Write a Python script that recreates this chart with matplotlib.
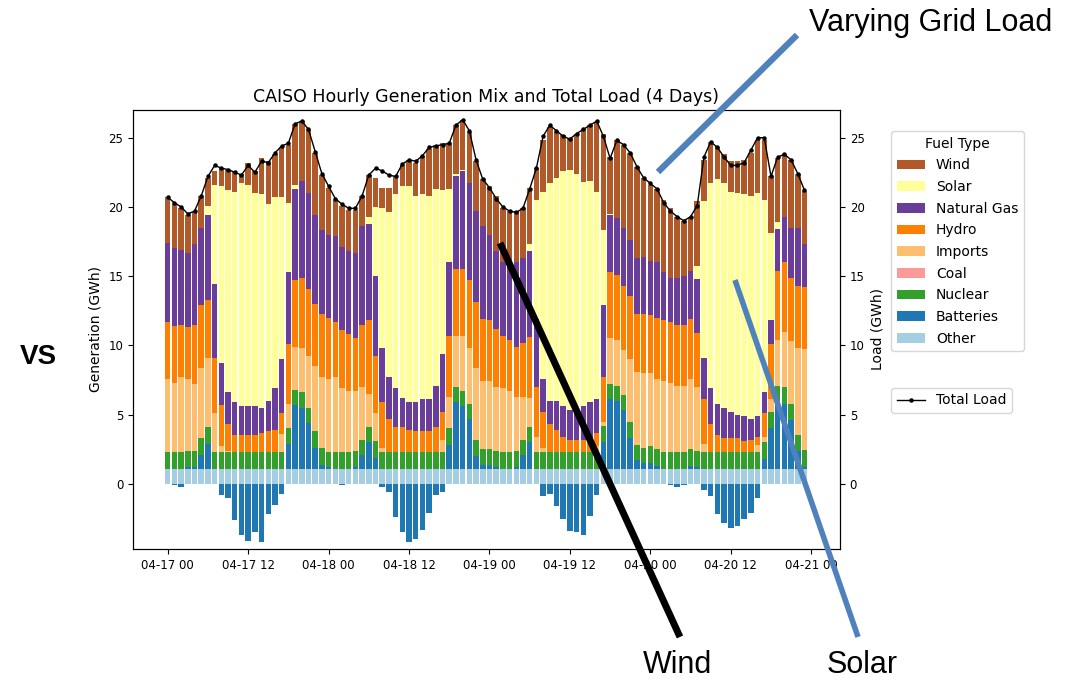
import matplotlib
matplotlib.use("Agg")
import matplotlib.pyplot as plt
import matplotlib.dates as mdates
from matplotlib.lines import Line2D
import numpy as np
import pandas as pd

# hourly values in GWh, 2024-04-17 00:00 .. 04-20 23:00
hours = pd.date_range("2024-04-17 00:00", periods=96, freq="h")

other = [1.1] * 96
batteries = [
    0.0, -0.05, -0.25, 0.1, 0.1, 1.0, 1.8, 0.0, -0.8, -1.0, -2.6, -3.7,
    -4.1, -3.5, -4.2, -2.2, -1.5, -0.7, 1.8, 4.6, 4.4, 3.3, 1.5, 0.3,
    0.1, 0.0, -0.05, 0.0, 0.1, 1.0, 1.9, 0.8, -0.25, -0.55, -2.4, -3.5,
    -4.2, -4.0, -3.3, -2.1, -0.8, -0.55, 1.7, 4.8, 4.5, 3.6, 0.9, 0.3,
    0.3, 0.1, 0.0, 0.0, 0.1, 1.0, 1.9, 0.0, -0.85, -0.7, -1.6, -2.5,
    -3.4, -3.5, -3.7, -2.3, -0.8, 1.9, 5.0, 4.9, 4.2, 2.2, 0.6, 0.4,
    0.4, 0.2, 0.0, -0.1, -0.2, -0.1, 0.2, 0.1, -0.45, -0.9, -2.2, -2.8,
    -3.2, -3.05, -2.5, -2.1, -1.0, 0.7, 2.9, 4.8, 4.7, 3.5, 1.3, 0.15,
]
nuclear = [
    1.2, 1.2, 1.2, 1.2, 1.2, 1.2, 1.2, 1.2, 1.2, 1.2, 1.2, 1.2,
    1.2, 1.2, 1.2, 1.2, 1.2, 1.2, 1.1, 1.1, 1.1, 1.1, 1.2, 1.2,
    1.1, 1.2, 1.2, 1.2, 1.2, 1.1, 1.1, 1.2, 1.2, 1.2, 1.2, 1.2,
    1.2, 1.2, 1.2, 1.2, 1.2, 1.2, 1.2, 1.1, 1.1, 1.1, 1.2, 1.1,
    1.1, 1.2, 1.2, 1.2, 1.2, 1.1, 1.1, 1.2, 1.2, 1.2, 1.2, 1.2,
    1.2, 1.2, 1.2, 1.2, 1.2, 1.2, 1.1, 1.1, 1.1, 1.2, 1.1, 1.1,
    1.2, 1.2, 1.2, 1.2, 1.2, 1.2, 1.2, 1.2, 1.2, 1.2, 1.2, 1.2,
    1.2, 1.2, 1.2, 1.2, 1.2, 1.2, 1.2, 1.2, 1.2, 1.2, 1.1, 1.2,
]
coal = [0.0] * 96
imports = [
    5.3, 5.0, 5.4, 5.2, 4.8, 5.1, 5.0, 2.8, 0.4, 0.1, 0.0, 0.0,
    0.0, 0.0, 0.0, 0.0, 0.0, 1.3, 1.8, 3.1, 3.2, 3.7, 4.7, 5.1,
    5.3, 5.4, 4.6, 4.4, 4.3, 3.8, 2.4, 2.0, 0.3, 0.0, 0.0, 0.0,
    0.0, 0.0, 0.0, 0.0, 0.0, 0.9, 2.3, 3.7, 4.0, 4.0, 5.2, 4.9,
    4.9, 4.6, 4.6, 4.4, 3.9, 3.1, 2.1, 1.1, 0.3, 0.0, 0.0, 0.0,
    0.0, 0.0, 0.0, 0.0, 0.4, 0.3, 3.3, 3.3, 3.3, 4.5, 5.3, 5.4,
    5.3, 5.1, 5.1, 5.0, 4.8, 4.8, 5.1, 4.6, 0.6, 0.0, 0.0, 0.0,
    0.0, 0.0, 0.0, 0.0, 0.5, 0.4, 0.9, 3.3, 4.0, 4.5, 6.3, 7.3,
]
hydro = [
    4.1, 4.1, 3.8, 3.7, 4.3, 4.5, 4.2, 4.0, 3.0, 1.9, 1.2, 1.2,
    1.2, 1.2, 1.4, 1.5, 1.6, 1.5, 4.3, 4.8, 5.1, 4.9, 4.5, 4.6,
    4.4, 4.0, 4.2, 4.1, 3.8, 4.5, 5.3, 4.1, 3.3, 2.4, 1.8, 1.8,
    1.6, 1.5, 1.5, 1.5, 1.8, 2.0, 4.4, 4.8, 4.8, 4.9, 4.7, 4.5,
    4.4, 4.2, 3.8, 3.7, 3.6, 3.9, 4.4, 3.6, 2.6, 2.0, 1.6, 1.1,
    0.9, 0.9, 0.9, 0.9, 1.0, 3.2, 4.8, 4.7, 4.6, 4.6, 4.2, 4.3,
    4.2, 4.4, 4.4, 4.4, 4.4, 4.4, 4.3, 3.9, 3.2, 2.0, 1.2, 1.0,
    1.0, 1.0, 0.8, 0.9, 0.6, 1.7, 4.0, 5.0, 5.0, 4.6, 4.5, 4.5,
]
natural_gas = [
    5.7, 5.6, 5.4, 5.4, 5.8, 5.6, 6.1, 5.3, 3.0, 2.3, 2.4, 2.1,
    2.1, 2.1, 1.8, 2.2, 3.0, 3.9, 5.2, 6.6, 7.0, 6.9, 6.4, 6.0,
    6.0, 6.2, 6.0, 6.0, 6.2, 7.1, 7.0, 5.8, 3.9, 3.0, 2.8, 2.1,
    2.0, 2.1, 2.3, 2.3, 3.0, 4.2, 5.3, 6.7, 7.1, 7.0, 6.6, 6.7,
    6.2, 5.6, 5.3, 5.4, 6.1, 6.1, 6.2, 4.9, 2.4, 1.7, 2.1, 2.2,
    2.1, 2.1, 2.4, 2.7, 2.4, 5.2, 4.1, 4.1, 4.2, 4.0, 4.0, 4.1,
    3.9, 4.0, 3.5, 3.2, 3.4, 3.5, 3.5, 3.9, 3.0, 2.6, 2.3, 2.2,
    1.9, 1.7, 1.8, 1.5, 1.5, 1.5, 1.7, 3.0, 3.3, 3.6, 4.2, 3.1,
]
solar = [
    0.0, 0.0, 0.0, 0.0, 0.0, 0.0, 0.7, 7.2, 12.8, 14.6, 15.2, 16.1,
    16.0, 15.4, 15.4, 14.2, 13.8, 11.7, 5.0, 0.3, 0.0, 0.0, 0.0, 0.0,
    0.0, 0.0, 0.0, 0.0, 0.0, 0.0, 0.5, 5.0, 10.1, 11.9, 14.0, 15.3,
    15.6, 14.9, 14.8, 14.7, 14.2, 11.8, 5.3, 0.2, 0.1, 0.0, 0.0, 0.0,
    0.0, 0.0, 0.0, 0.0, 0.0, 0.0, 0.5, 8.6, 13.5, 15.7, 16.1, 17.0,
    17.4, 17.1, 16.2, 16.0, 15.0, 5.4, 0.1, 0.0, 0.0, 0.0, 0.0, 0.0,
    0.0, 0.0, 0.0, 0.0, 0.0, 0.0, 0.0, 0.9, 11.3, 14.8, 16.2, 16.2,
    15.9, 16.0, 16.0, 16.1, 16.1, 13.9, 6.3, 0.5, 0.0, 0.0, 0.0, 0.0,
]
wind = [
    3.3, 3.2, 3.0, 2.7, 2.3, 2.3, 2.0, 1.0, 1.3, 1.5, 1.4, 0.7,
    1.6, 1.6, 2.6, 3.1, 3.1, 3.6, 4.2, 4.4, 4.3, 4.6, 4.5, 4.0,
    3.4, 2.6, 3.0, 3.0, 3.1, 2.2, 3.0, 2.1, 1.5, 1.8, 1.3, 1.5,
    1.9, 2.4, 2.8, 3.4, 3.2, 3.4, 3.3, 3.5, 3.6, 3.7, 3.6, 3.4,
    3.5, 4.0, 3.9, 3.9, 3.7, 3.6, 4.1, 2.3, 3.7, 4.1, 3.3, 2.6,
    2.3, 2.9, 3.8, 4.0, 5.0, 7.0, 4.1, 5.6, 6.0, 6.3, 6.6, 5.7,
    5.5, 5.3, 5.2, 5.0, 4.4, 4.0, 3.8, 4.7, 3.0, 3.0, 2.3, 2.1,
    2.2, 2.3, 2.5, 3.1, 3.8, 4.3, 4.1, 4.6, 4.5, 4.9, 3.9, 3.8,
]
total_load = [
    20.7, 20.3, 20.0, 19.5, 19.7, 20.8, 22.2, 23.0, 22.8, 22.7, 22.5, 22.3,
    23.0, 22.5, 23.3, 23.2, 23.9, 24.4, 24.6, 26.0, 26.2, 25.6, 24.0, 22.4,
    21.5, 20.6, 20.2, 19.9, 19.9, 20.8, 22.3, 22.8, 22.6, 22.3, 22.2, 23.1,
    23.4, 23.3, 23.7, 24.3, 24.4, 24.5, 24.6, 25.9, 26.3, 25.5, 23.4, 22.0,
    21.4, 20.6, 20.0, 19.7, 19.6, 19.9, 21.3, 22.8, 25.1, 25.9, 25.5, 25.1,
    24.9, 25.3, 25.6, 25.9, 26.2, 25.1, 23.5, 24.8, 24.5, 23.9, 22.9, 22.1,
    21.7, 21.3, 20.3, 19.7, 19.3, 19.0, 19.3, 20.1, 23.6, 24.7, 24.3, 23.6,
    23.0, 23.0, 23.2, 24.1, 25.0, 25.0, 22.2, 23.6, 23.8, 23.4, 22.4, 21.2,
]

fuel_types = ["Other", "Batteries", "Nuclear", "Coal", "Imports",
              "Hydro", "Natural Gas", "Solar", "Wind"]
fuel_values = [other, batteries, nuclear, coal, imports,
               hydro, natural_gas, solar, wind]
fuel_colors = ["#a6cee3", "#1f78b4", "#33a02c", "#fb9a99", "#fdbf6f",
               "#ff7f00", "#6a3d9a", "#ffff99", "#b15928"]

fig = plt.figure(figsize=(10.72, 6.79), dpi=100)
ax = fig.add_axes([0.124, 0.1915, 0.6596, 0.6465])

x = mdates.date2num(hours.to_pydatetime())
width = 0.82 / 24
pos_bottom = np.zeros(len(x))
neg_bottom = np.zeros(len(x))
handles = []
for name, vals, col in zip(fuel_types, fuel_values, fuel_colors):
    v = np.array(vals, dtype=float)
    bottom = np.where(v >= 0, pos_bottom, neg_bottom)
    bars = ax.bar(x, v, width=width, bottom=bottom, color=col, label=name, linewidth=0)
    handles.append(bars)
    pos_bottom = pos_bottom + np.clip(v, 0, None)
    neg_bottom = neg_bottom + np.clip(v, None, 0)

ax.set_xlim(x[0] - 5.19 / 24, x[0] + 100.3 / 24)
ax.set_ylim(-4.7, 27.0)
ax.xaxis.set_major_locator(mdates.HourLocator(byhour=[0, 12]))
ax.xaxis.set_major_formatter(mdates.DateFormatter("%m-%d %H"))
ax.tick_params(labelsize=8.5)
ax.set_ylabel("Generation (GWh)", fontsize=10)
ax.set_title("CAISO Hourly Generation Mix and Total Load (4 Days)", fontsize=12.5)

ax2 = ax.twinx()
load_line, = ax2.plot(x, total_load, color="black", marker="o", markersize=2.2,
                      linewidth=1, label="Total Load")
ax2.set_ylim(ax.get_ylim())
ax2.tick_params(labelsize=8.5)
ax2.set_ylabel("Load (GWh)", fontsize=10)

leg1 = fig.legend(handles[::-1], fuel_types[::-1], title="Fuel Type",
                  loc="upper left", bbox_to_anchor=(0.825, 0.817),
                  fontsize=10, title_fontsize=10, labelspacing=0.55)
leg2 = fig.legend([load_line], ["Total Load"], loc="upper left",
                  bbox_to_anchor=(0.825, 0.439), fontsize=10)

# slide annotations around the chart
blue = "#4f81bd"
fig.add_artist(Line2D([0.7435, 0.6138], [0.9485, 0.7467], color=blue, lw=4.5,
                      transform=fig.transFigure, solid_capstyle="butt"))
fig.add_artist(Line2D([0.4664, 0.6343], [0.6421, 0.0619], color="black", lw=5,
                      transform=fig.transFigure, solid_capstyle="butt"))
fig.add_artist(Line2D([0.6856, 0.8004], [0.5876, 0.0619], color=blue, lw=4,
                      transform=fig.transFigure, solid_capstyle="butt"))

sans = ["Liberation Sans", "DejaVu Sans"]
fig.text(0.868, 0.966, "Varying Grid Load", family=sans, fontsize=22,
         ha="center", va="center")
fig.text(0.632, 0.020, "Wind", family=sans, fontsize=22, ha="center", va="center")
fig.text(0.804, 0.020, "Solar", family=sans, fontsize=22, ha="center", va="center")
fig.text(0.036, 0.474, "VS", family=sans, fontsize=20, fontweight="bold",
         ha="center", va="center")
fig.text(0.185, 1.0135, "gy", family=sans, fontsize=30, fontweight="bold",
         color="#1f4e8c", ha="left", va="baseline")

fig.savefig("out.png", dpi=100)
